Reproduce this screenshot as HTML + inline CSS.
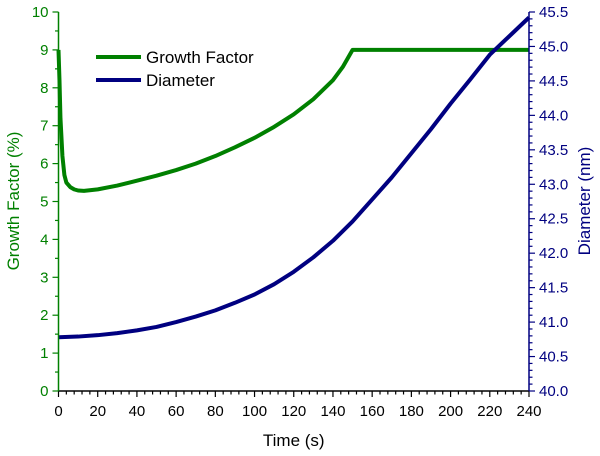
<!DOCTYPE html>
<html><head><meta charset="utf-8"><style>
body{margin:0;background:#fff;}
svg{display:block;font-family:"Liberation Sans",Arial,sans-serif;}
</style></head><body>
<svg id="chart" width="600" height="456"></svg>
<script>
const timeGF=[0,0.5,1,2,3,4,6,8,10,13,20,30,40,50,60,70,80,90,100,110,120,130,140,145,150,160,180,200,220,240];
const growthFactor=[9.0,8.2,7.2,6.2,5.7,5.5,5.38,5.32,5.29,5.28,5.32,5.42,5.55,5.68,5.83,6.0,6.2,6.43,6.68,6.97,7.3,7.7,8.2,8.55,9.0,9.0,9.0,9.0,9.0,9.0];
const timeD=[0,10,20,30,40,50,60,70,80,90,100,110,120,130,140,150,160,170,180,190,200,210,220,230,240];
const diameter=[40.78,40.79,40.81,40.84,40.88,40.93,41.0,41.08,41.17,41.28,41.4,41.55,41.73,41.94,42.18,42.46,42.78,43.1,43.45,43.8,44.17,44.52,44.88,45.15,45.42];
const xTicks=[0,20,40,60,80,100,120,140,160,180,200,220,240];
const yLeftTicks=[0,1,2,3,4,5,6,7,8,9,10];
const yRightTicks=[40.0,40.5,41.0,41.5,42.0,42.5,43.0,43.5,44.0,44.5,45.0,45.5];
const NS="http://www.w3.org/2000/svg";
const svg=document.getElementById('chart');
const X0=58.5,X1=529,YT=12,YB=391;
const xs=t=>X0+(t/240)*(X1-X0);
const yl=v=>YB-(v/10)*(YB-YT);
const yr=v=>YB-((v-40)/5.5)*(YB-YT);
function el(tag,attrs,text){const e=document.createElementNS(NS,tag);for(const k in attrs)e.setAttribute(k,attrs[k]);if(text!==undefined)e.textContent=text;svg.appendChild(e);return e;}
const G='#008000',B='#000080';
// series
let d=timeGF.map((t,i)=>(i?'L':'M')+xs(t).toFixed(2)+','+yl(growthFactor[i]).toFixed(2)).join('');
let p=el('path',{d:d,fill:'none',stroke:G,'stroke-width':4,'stroke-linejoin':'round'});


d=timeD.map((t,i)=>(i?'L':'M')+xs(t).toFixed(2)+','+yr(diameter[i]).toFixed(2)).join('');
p=el('path',{d:d,fill:'none',stroke:B,'stroke-width':4,'stroke-linejoin':'round'});


// axes
let a=el('line',{x1:X0,y1:YB,x2:X1,y2:YB,stroke:'#000','stroke-width':1.5});


a=el('line',{x1:X0,y1:YT,x2:X0,y2:YB,stroke:G,'stroke-width':1.5});


a=el('line',{x1:X1,y1:YT,x2:X1,y2:YB,stroke:B,'stroke-width':1.5});


for(let t=0;t<=240;t+=4){el('line',{x1:xs(t),y1:YB,x2:xs(t),y2:YB+(t%20===0?6:3.5),stroke:'#000','stroke-width':1.2});}
xTicks.forEach(t=>{const e=el('text',{x:xs(t),y:YB+25,'text-anchor':'middle','font-size':15,fill:'#000'},t);

});
for(let v=0;v<=10;v+=0.5){el('line',{x1:X0,y1:yl(v),x2:X0-(v%1===0?6:3.5),y2:yl(v),stroke:G,'stroke-width':1.2});}
yLeftTicks.forEach(v=>{const e=el('text',{x:X0-10,y:yl(v)+5,'text-anchor':'end','font-size':15,fill:G},v);

});
for(let i=0;i<=55;i++){const v=40+i*0.1;el('line',{x1:X1,y1:yr(v),x2:X1+(i%5===0?6:3.5),y2:yr(v),stroke:B,'stroke-width':1.2});}
yRightTicks.forEach(v=>{const e=el('text',{x:X1+10,y:yr(v)+5,'font-size':15,fill:B},v.toFixed(1));

});
// titles
let t=el('text',{x:(X0+X1)/2,y:446,'text-anchor':'middle','font-size':17,fill:'#000'},'Time (s)');


t=el('text',{x:19,y:201,'text-anchor':'middle','font-size':17,fill:G,transform:'rotate(-90 19 201)'},'Growth Factor (%)');


t=el('text',{x:590,y:201,'text-anchor':'middle','font-size':17,fill:B,transform:'rotate(-90 590 201)'},'Diameter (nm)');


// legend
let l=el('line',{x1:96,y1:57,x2:141,y2:57,stroke:G,'stroke-width':4});


t=el('text',{x:146,y:63,'font-size':17,fill:'#000'},'Growth Factor');


l=el('line',{x1:96,y1:80,x2:141,y2:80,stroke:B,'stroke-width':4});


t=el('text',{x:146,y:86,'font-size':17,fill:'#000'},'Diameter');


</script>
</body></html>
